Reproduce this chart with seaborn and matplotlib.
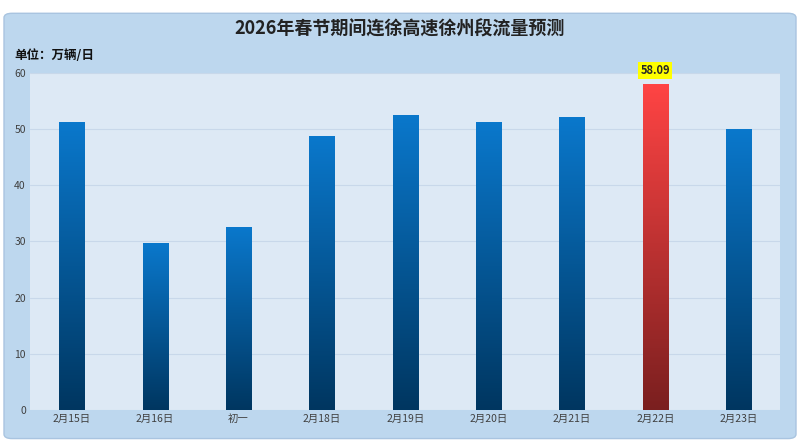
import numpy as np
import pandas as pd
import matplotlib
matplotlib.use("Agg")
import matplotlib.pyplot as plt
import seaborn as sns
from matplotlib.colors import LinearSegmentedColormap
from matplotlib.patches import FancyBboxPatch

days = ['2月15日', '2月16日', '初一', '2月18日', '2月19日', '2月20日', '2月21日', '2月22日', '2月23日']
flow = [51.2, 29.7, 32.5, 48.8, 52.6, 51.2, 52.1, 58.09, 50.0]
peak_idx = 7

sns.set_style("white")
plt.rcParams['font.family'] = ['Noto Sans CJK SC', 'DejaVu Sans']

df = pd.DataFrame({'day': days, 'flow': flow})

fig = plt.figure(figsize=(8, 4.43), dpi=100)
fig.patch.set_facecolor('white')
# outer light-blue panel
fig.patches.append(FancyBboxPatch((0.005, 0.01), 0.99, 0.96, boxstyle="round,pad=0,rounding_size=0.01",
                                  transform=fig.transFigure, facecolor='#bdd7ee', edgecolor='#a9c4e0', zorder=-10))
ax = fig.add_axes([0.0375, 0.075, 0.938, 0.76])
ax.set_facecolor('#dde9f5')

sns.barplot(data=df, x='day', y='flow', ax=ax, width=0.3, color='#0070c0', edgecolor='none')

blue = LinearSegmentedColormap.from_list('b', ['#003660', '#0a78cc'])
red = LinearSegmentedColormap.from_list('r', ['#7a1f1f', '#ff4444'])
grad = np.linspace(0, 1, 256).reshape(-1, 1)
for i, p in enumerate(ax.patches):
    x0, w, h = p.get_x(), p.get_width(), p.get_height()
    cmap = red if i == peak_idx else blue
    im = ax.imshow(grad, cmap=cmap, origin='lower', aspect='auto',
                   extent=[x0, x0 + w, 0, h], zorder=3)
    im.set_clip_path(p)
    p.set_facecolor('none')

pk = ax.patches[peak_idx]
ax.text(pk.get_x() + pk.get_width() / 2, flow[peak_idx] + 1.2, f'{flow[peak_idx]:.2f}',
        ha='center', va='bottom', fontsize=8, fontweight='bold',
        bbox=dict(boxstyle='square,pad=0.2', facecolor='#ffff00', edgecolor='none'))

ax.set_xlim(-0.5, len(days) - 0.5)
ax.set_ylim(0, 60)
ax.set_yticks(range(0, 61, 10))
ax.yaxis.grid(True, color='#c8d8ea', linewidth=0.8)
ax.set_axisbelow(True)
ax.tick_params(axis='both', labelsize=7.5, colors='#404040', length=0, pad=3)
ax.set_xlabel('')
ax.set_ylabel('')
for s in ax.spines.values():
    s.set_visible(False)

fig.text(0.5, 0.935, '2026年春节期间连徐高速徐州段流量预测', ha='center', va='center',
         fontsize=13, fontweight='bold', color='#222222')
fig.text(0.018, 0.875, '单位：万辆/日', ha='left', va='center', fontsize=9, fontweight='bold', color='#111111')

fig.savefig('out.png', dpi=100)
